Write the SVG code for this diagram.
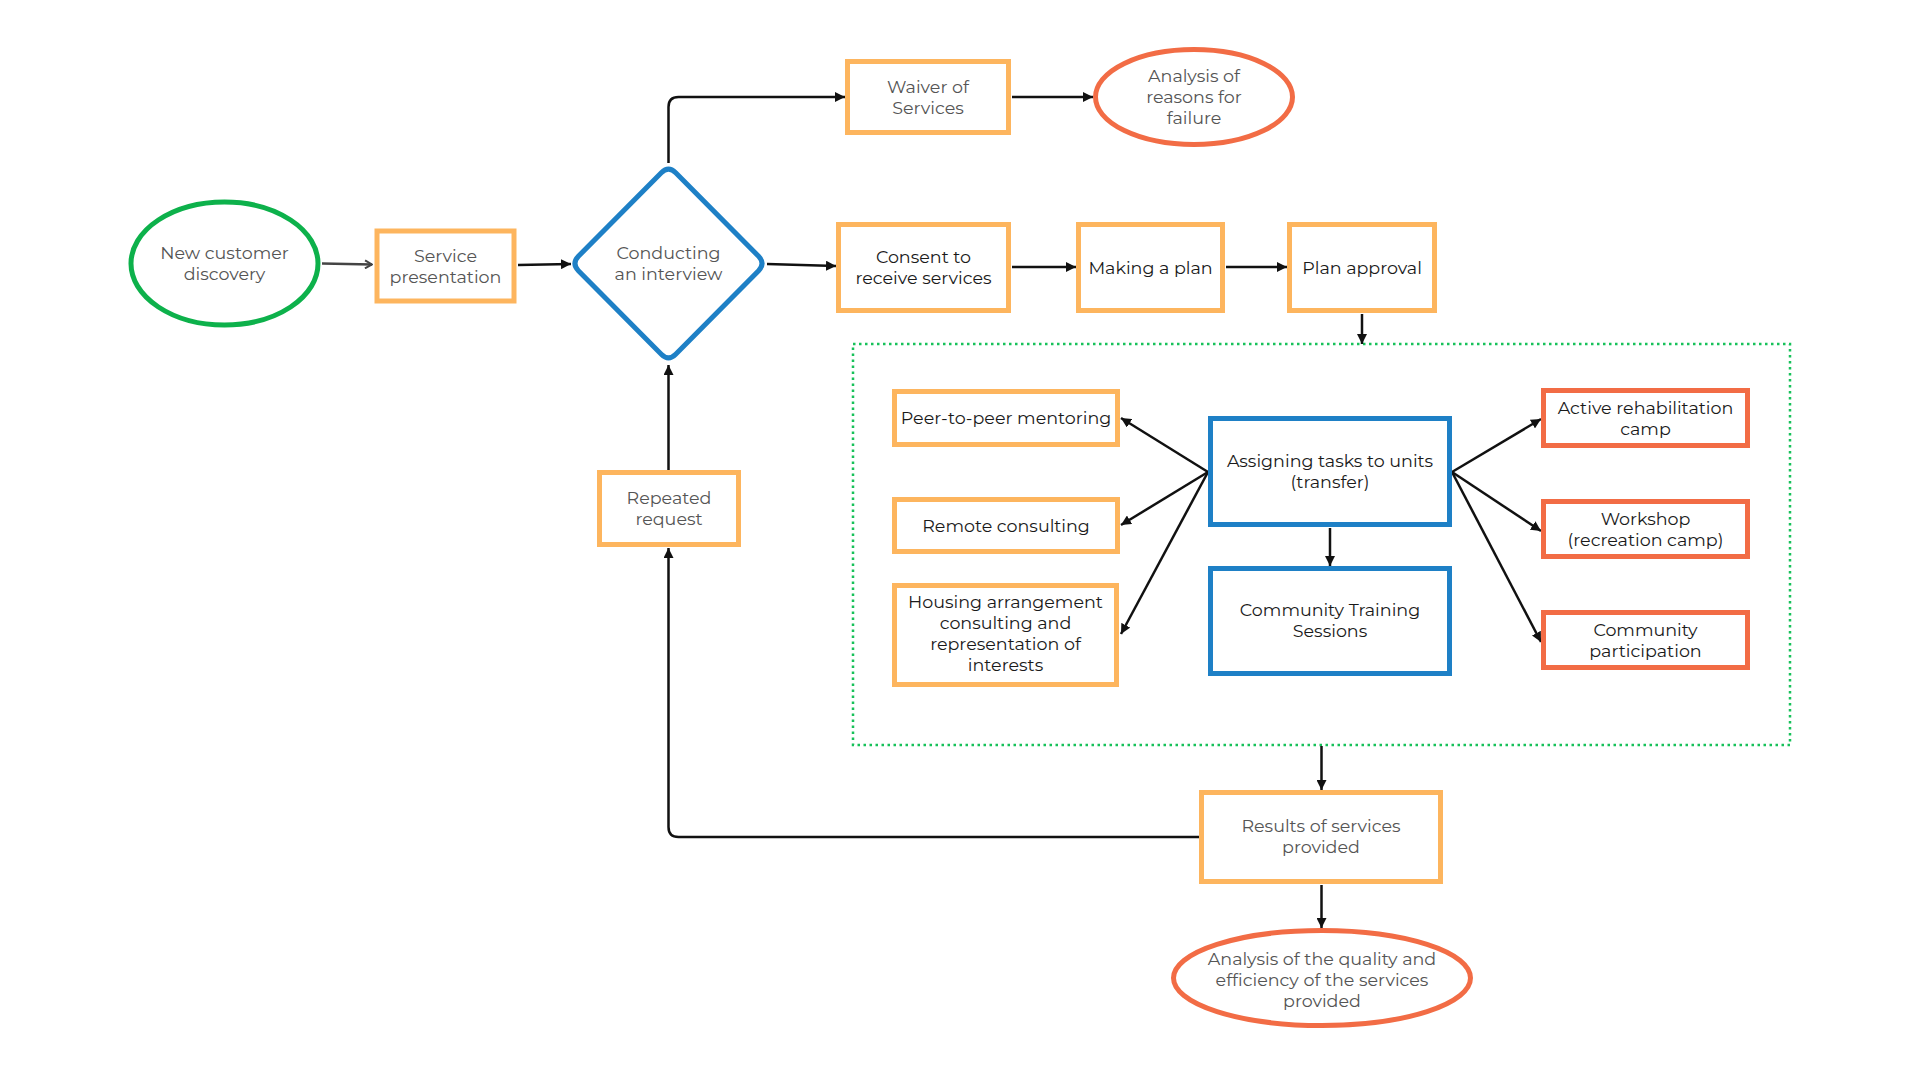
<svg xmlns="http://www.w3.org/2000/svg" width="1920" height="1080" viewBox="0 0 1920 1080">
  <defs>
    <marker id="arr" viewBox="0 0 10 10" refX="10" refY="5" markerWidth="10" markerHeight="10" markerUnits="userSpaceOnUse" orient="auto">
      <path d="M0,0 L10,5 L0,10 z" fill="#111"/>
    </marker>
    <marker id="chev" viewBox="0 0 10 10" refX="9" refY="5" markerWidth="10" markerHeight="10" markerUnits="userSpaceOnUse" orient="auto">
      <path d="M2,1 L9,5 L2,9" fill="none" stroke="#444" stroke-width="2"/>
    </marker>
    <style>
      .ob { fill: #fff; stroke: #FDB55E; stroke-width: 5; }
      .rb { fill: #fff; stroke: #F26C45; stroke-width: 5; }
      .bb { fill: #fff; stroke: #1E80C6; stroke-width: 5; }
      .ge { fill: #fff; stroke: #0DB14B; stroke-width: 5; }
      .re { fill: #fff; stroke: #F26C45; stroke-width: 5; }
      .t { font-family: "Montserrat", "Open Sans", "Liberation Sans", sans-serif; font-size: 17.5px; text-anchor: middle; fill: #1a1a1a; }
      .g { fill: #555; font-weight: 400; }
      .c { fill: none; stroke: #111; stroke-width: 2.5; }
      .cg { fill: none; stroke: #444; stroke-width: 2.5; }
      .grp { fill: none; stroke: #17C15A; stroke-width: 2.5; stroke-dasharray: 2.5 3.5; }
    </style>
  </defs>
  <rect width="1920" height="1080" fill="#fff"/>

  <g id="container">
    <rect class="grp" x="853" y="344" width="937" height="401"/>
  </g>

  <g id="connectors">
    <line class="cg" x1="322" y1="263.5" x2="372" y2="264.5" marker-end="url(#chev)"/>
    <line class="c" x1="518" y1="265" x2="571" y2="264" marker-end="url(#arr)"/>
    <line class="c" x1="767" y1="264" x2="836" y2="266" marker-end="url(#arr)"/>
    <path class="c" d="M668.5,163 V107 Q668.5,97 678.5,97 H845" marker-end="url(#arr)"/>
    <line class="c" x1="1012" y1="97" x2="1093" y2="97" marker-end="url(#arr)"/>
    <line class="c" x1="1012" y1="267" x2="1076" y2="267" marker-end="url(#arr)"/>
    <line class="c" x1="1226" y1="267" x2="1287" y2="267" marker-end="url(#arr)"/>
    <line class="c" x1="1362" y1="314" x2="1362" y2="344" marker-end="url(#arr)"/>
    <line class="c" x1="1208" y1="472" x2="1121" y2="418" marker-end="url(#arr)"/>
    <line class="c" x1="1208" y1="472" x2="1121" y2="525" marker-end="url(#arr)"/>
    <line class="c" x1="1208" y1="472" x2="1121" y2="634" marker-end="url(#arr)"/>
    <line class="c" x1="1330" y1="528" x2="1330" y2="566" marker-end="url(#arr)"/>
    <line class="c" x1="1452" y1="472" x2="1541" y2="419" marker-end="url(#arr)"/>
    <line class="c" x1="1452" y1="472" x2="1541" y2="531" marker-end="url(#arr)"/>
    <line class="c" x1="1452" y1="472" x2="1541" y2="642" marker-end="url(#arr)"/>
    <line class="c" x1="1321.5" y1="746" x2="1321.5" y2="790" marker-end="url(#arr)"/>
    <line class="c" x1="1321.5" y1="885" x2="1321.5" y2="928" marker-end="url(#arr)"/>
    <path class="c" d="M1199,837 H678.5 Q668.5,837 668.5,827 V548" marker-end="url(#arr)"/>
    <line class="c" x1="668.5" y1="470" x2="668.5" y2="365" marker-end="url(#arr)"/>
  </g>

  <g id="new-customer-discovery">
    <ellipse class="ge" cx="224.5" cy="263.5" rx="93.5" ry="61.5"/>
    <text class="t g" x="224.5" y="259">New customer</text>
    <text class="t g" x="224.5" y="280">discovery</text>
  </g>

  <g id="service-presentation">
    <rect class="ob" x="377" y="231" width="137" height="70"/>
    <text class="t g" x="445.5" y="261.5">Service</text>
    <text class="t g" x="445.5" y="282.5">presentation</text>
  </g>

  <g id="conducting-interview">
    <path class="bb" d="M675.7,172.7 L758.6,256.3 Q765.5,263.5 758.6,270.7 L675.7,354.3 Q668.5,361.5 661.3,354.3 L578.4,270.7 Q571.5,263.5 578.4,256.3 L661.3,172.7 Q668.5,165.5 675.7,172.7 Z"/>
    <text class="t g" x="668.5" y="259">Conducting</text>
    <text class="t g" x="668.5" y="280">an interview</text>
  </g>

  <g id="waiver-of-services">
    <rect class="ob" x="847.5" y="61.5" width="161" height="71"/>
    <text class="t g" x="928" y="92.5">Waiver of</text>
    <text class="t g" x="928" y="113.5">Services</text>
  </g>

  <g id="analysis-of-failure">
    <ellipse class="re" cx="1194" cy="97" rx="98.5" ry="47.5"/>
    <text class="t g" x="1194" y="82">Analysis of</text>
    <text class="t g" x="1194" y="103">reasons for</text>
    <text class="t g" x="1194" y="124">failure</text>
  </g>

  <g id="consent">
    <rect class="ob" x="838.5" y="224.5" width="170" height="86"/>
    <text class="t" x="923.5" y="263">Consent to</text>
    <text class="t" x="923.5" y="284">receive services</text>
  </g>

  <g id="making-plan">
    <rect class="ob" x="1078.5" y="224.5" width="144" height="86"/>
    <text class="t" x="1150.5" y="273.5">Making a plan</text>
  </g>

  <g id="plan-approval">
    <rect class="ob" x="1289.5" y="224.5" width="145" height="86"/>
    <text class="t" x="1362" y="273.5">Plan approval</text>
  </g>

  <g id="peer-mentoring">
    <rect class="ob" x="894.5" y="391.5" width="223" height="53"/>
    <text class="t" x="1006" y="424">Peer-to-peer mentoring</text>
  </g>

  <g id="remote-consulting">
    <rect class="ob" x="894.5" y="499.5" width="223" height="52"/>
    <text class="t" x="1006" y="532">Remote consulting</text>
  </g>

  <g id="housing-arrangement">
    <rect class="ob" x="894.5" y="585.5" width="222" height="99"/>
    <text class="t" x="1005.5" y="608">Housing arrangement</text>
    <text class="t" x="1005.5" y="629">consulting and</text>
    <text class="t" x="1005.5" y="650">representation of</text>
    <text class="t" x="1005.5" y="671">interests</text>
  </g>

  <g id="assigning-tasks">
    <rect class="bb" x="1210.5" y="418.5" width="239" height="106"/>
    <text class="t" x="1330" y="467">Assigning tasks to units</text>
    <text class="t" x="1330" y="488">(transfer)</text>
  </g>

  <g id="community-training">
    <rect class="bb" x="1210.5" y="568.5" width="239" height="105"/>
    <text class="t" x="1330" y="616">Community Training</text>
    <text class="t" x="1330" y="637">Sessions</text>
  </g>

  <g id="active-rehabilitation">
    <rect class="rb" x="1543.5" y="390.5" width="204" height="55"/>
    <text class="t" x="1645.5" y="413.5">Active rehabilitation</text>
    <text class="t" x="1645.5" y="434.5">camp</text>
  </g>

  <g id="workshop">
    <rect class="rb" x="1543.5" y="501.5" width="204" height="55"/>
    <text class="t" x="1645.5" y="524.5">Workshop</text>
    <text class="t" x="1645.5" y="545.5">(recreation camp)</text>
  </g>

  <g id="community-participation">
    <rect class="rb" x="1543.5" y="612.5" width="204" height="55"/>
    <text class="t" x="1645.5" y="635.5">Community</text>
    <text class="t" x="1645.5" y="656.5">participation</text>
  </g>

  <g id="repeated-request">
    <rect class="ob" x="599.5" y="472.5" width="139" height="72"/>
    <text class="t g" x="669" y="504">Repeated</text>
    <text class="t g" x="669" y="525">request</text>
  </g>

  <g id="results">
    <rect class="ob" x="1201.5" y="792.5" width="239" height="89"/>
    <text class="t g" x="1321" y="832">Results of services</text>
    <text class="t g" x="1321" y="853">provided</text>
  </g>

  <g id="analysis-quality">
    <ellipse class="re" cx="1322" cy="978" rx="148.5" ry="47.5"/>
    <text class="t g" x="1322" y="965">Analysis of the quality and</text>
    <text class="t g" x="1322" y="986">efficiency of the services</text>
    <text class="t g" x="1322" y="1007">provided</text>
  </g>
</svg>
